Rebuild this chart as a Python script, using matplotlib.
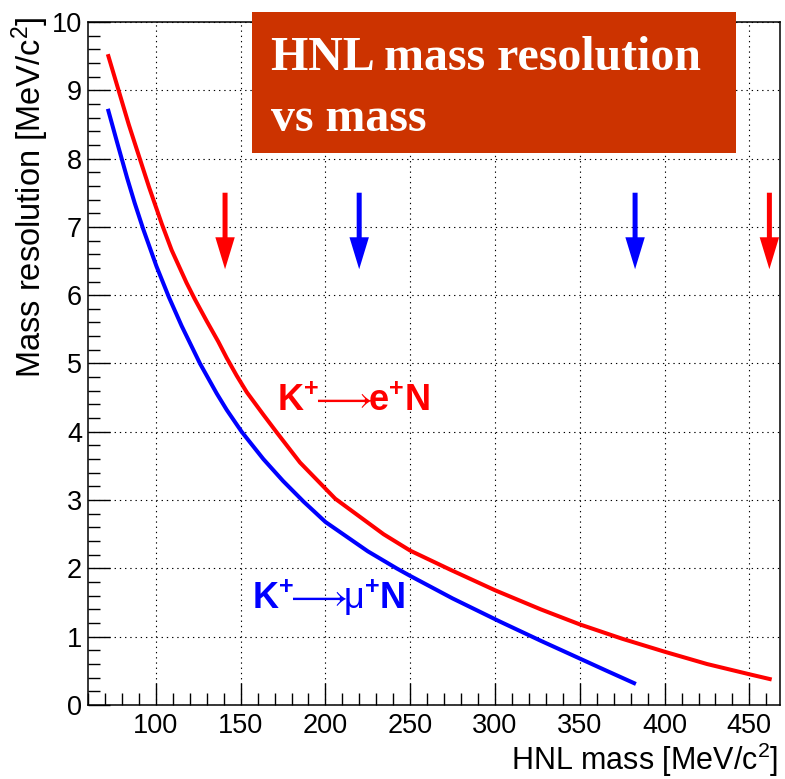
import matplotlib
matplotlib.use("Agg")
import matplotlib.pyplot as plt
from matplotlib.ticker import MultipleLocator
from matplotlib.patches import Rectangle

plt.rcParams['font.family'] = ['Liberation Sans', 'DejaVu Sans']
plt.rcParams['mathtext.fontset'] = 'custom'
plt.rcParams['mathtext.rm'] = 'Liberation Sans'
plt.rcParams['mathtext.bf'] = 'Liberation Sans:bold'
plt.rcParams['mathtext.it'] = 'Liberation Sans:italic'

# K+ -> e+ N  (red curve)
red_mass = [72, 78, 84, 90.5, 96, 103.4, 109.3, 118.1, 123, 130, 136.8, 141.8, 147.7,
            153.6, 163.4, 171.3, 185, 205.8, 234.3, 250, 273.7, 300, 327, 350, 375,
            400, 425, 450, 462]
red_res = [9.50, 9.00, 8.50, 8.00, 7.58, 7.05, 6.66, 6.18, 5.94, 5.62, 5.32, 5.08, 4.82,
           4.58, 4.25, 3.99, 3.55, 3.02, 2.50, 2.26, 1.98, 1.68, 1.40, 1.18, 0.97,
           0.78, 0.60, 0.45, 0.38]

# K+ -> mu+ N  (blue curve)
blue_mass = [72, 77, 83, 87.5, 92.5, 100.4, 107.7, 115.2, 126, 135.9, 141.8, 150.6, 163.4,
             175, 187, 200, 225, 242, 250, 275, 303, 327, 350, 365, 382]
blue_res = [8.70, 8.25, 7.72, 7.35, 6.97, 6.42, 5.97, 5.55, 5.00, 4.56, 4.32, 4.00, 3.60,
            3.28, 2.98, 2.68, 2.25, 2.00, 1.89, 1.56, 1.22, 0.94, 0.68, 0.51, 0.32]

# arrow markers (mass values)
red_arrows = [140.8, 461.8]
blue_arrows = [219.9, 382.6]
arrow_top = 7.5
arrow_tip = 6.38

fig = plt.figure(figsize=(7.85, 7.79), dpi=100)
ax = fig.add_axes([0.1115, 0.095, 0.882, 0.8768])

ax.plot(red_mass, red_res, color='#ff0000', lw=2.9, zorder=3)
ax.plot(blue_mass, blue_res, color='#0000ff', lw=2.9, zorder=3)

for xa in red_arrows:
    ax.annotate('', xy=(xa, arrow_tip), xytext=(xa, arrow_top),
                arrowprops=dict(width=3.6, headwidth=14, headlength=23,
                                shrink=0, color='#ff0000', lw=0))
for xa in blue_arrows:
    ax.annotate('', xy=(xa, arrow_tip), xytext=(xa, arrow_top),
                arrowprops=dict(width=3.6, headwidth=14, headlength=23,
                                shrink=0, color='#0000ff', lw=0))

ax.text(171.3, 4.30, r'$\mathbf{K^{+}}\!\!\longrightarrow\!\!\mathbf{e^{+}N}$',
        color='#ff0000', fontsize=26, va='baseline', ha='left')
ax.text(156.5, 1.41, r'$\mathbf{K^{+}}\!\!\longrightarrow\!\!\mathrm{\mu}^{\mathbf{+}}\mathbf{N}$',
        color='#0000ff', fontsize=26, va='baseline', ha='left')

ax.set_xlim(59.7, 468)
ax.set_ylim(0, 10)
ax.xaxis.set_major_locator(MultipleLocator(50))
ax.xaxis.set_minor_locator(MultipleLocator(10))
ax.yaxis.set_major_locator(MultipleLocator(1))
ax.yaxis.set_minor_locator(MultipleLocator(0.2))
ax.set_xticks([100, 150, 200, 250, 300, 350, 400, 450])

ax.tick_params(which='both', direction='in', top=False, right=False, width=1.0)
ax.tick_params(which='major', length=15.5, labelsize=19.5)
ax.tick_params(axis='x', which='major', pad=6)
ax.tick_params(axis='y', which='major', pad=4)
ax.tick_params(which='minor', length=8.6)
for sp in ax.spines.values():
    sp.set_linewidth(1.1)

ax.grid(True, which='major', color='black', lw=0.8, linestyle=(0, (1.2, 3.5)))

fig.text(0.991, 0.0, r'HNL mass [MeV/c$^{2}$]', fontsize=22, ha='right', va='bottom')
fig.text(0.038, 0.979, r'Mass resolution [MeV/c$^{2}$]', fontsize=23.5, rotation=90,
         ha='center', va='top')

# title box
fig.add_artist(Rectangle((0.321, 0.8036), 0.6166, 0.1816, transform=fig.transFigure,
                         facecolor='#cc3300', edgecolor='none', zorder=5))
fig.text(0.345, 0.910, 'HNL mass resolution', color='white', fontsize=34.5,
         fontweight='bold', family='Liberation Serif', va='baseline', zorder=6)
fig.text(0.345, 0.832, 'vs mass', color='white', fontsize=34.5,
         fontweight='bold', family='Liberation Serif', va='baseline', zorder=6)

fig.savefig('out.png', dpi=100)
